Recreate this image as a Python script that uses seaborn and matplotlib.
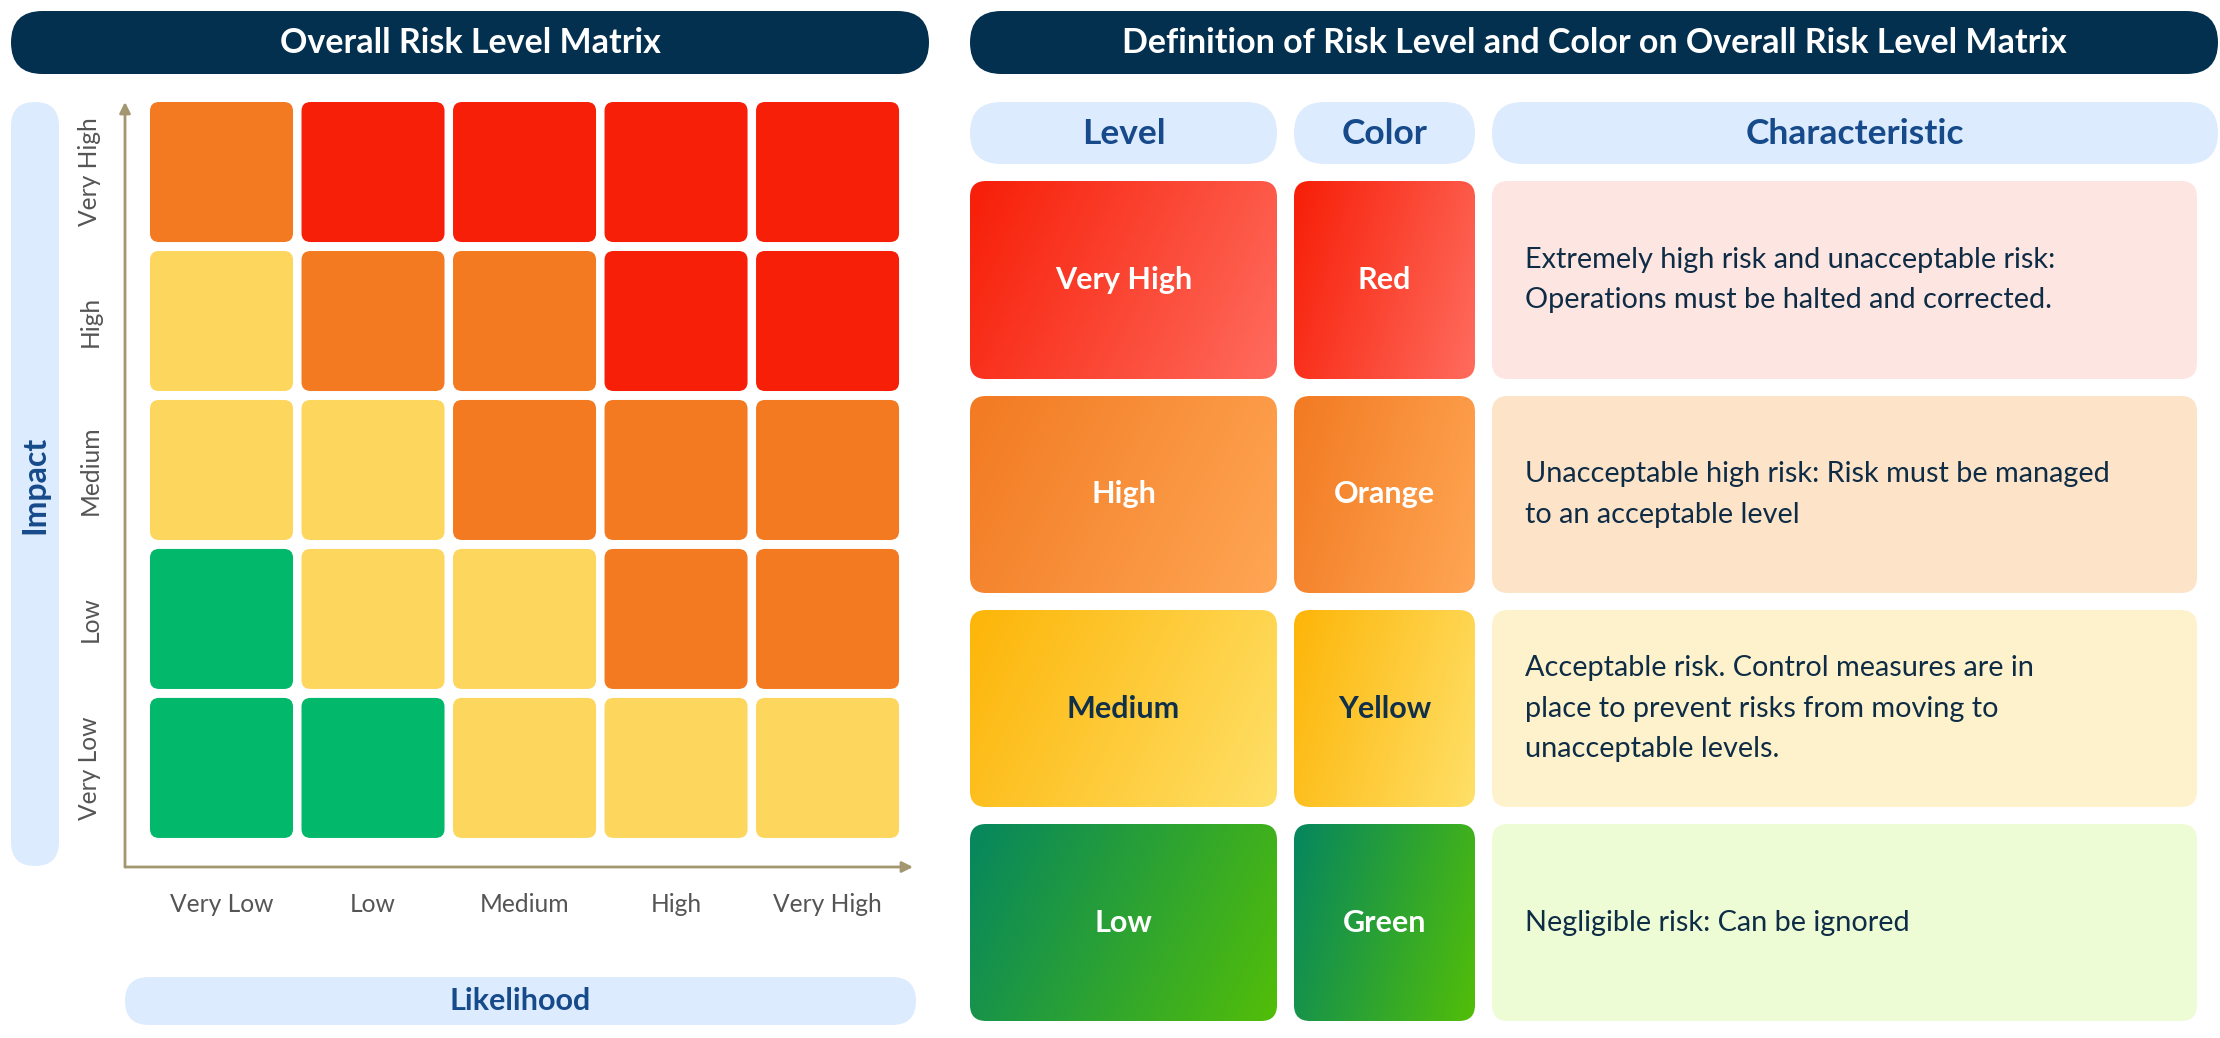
import numpy as np
import pandas as pd
import seaborn as sns
import matplotlib.pyplot as plt
from matplotlib.patches import FancyBboxPatch
from matplotlib.colors import ListedColormap, BoundaryNorm, to_rgb

# ---- data ----
likelihood = ["Very Low", "Low", "Medium", "High", "Very High"]
impact = ["Very High", "High", "Medium", "Low", "Very Low"]  # top -> bottom
# 1 = Low (green), 2 = Medium (yellow), 3 = High (orange), 4 = Very High (red)
risk_matrix = [
    [3, 4, 4, 4, 4],
    [2, 3, 3, 4, 4],
    [2, 2, 3, 3, 3],
    [1, 2, 2, 3, 3],
    [1, 1, 2, 2, 2],
]
matrix_colors = ["#02b86a", "#fdd65d", "#f47a22", "#f71f08"]

levels = ["Very High", "High", "Medium", "Low"]
color_names = ["Red", "Orange", "Yellow", "Green"]
characteristics = [
    "Extremely high risk and unacceptable risk:\nOperations must be halted and corrected.",
    "Unacceptable high risk: Risk must be managed\nto an acceptable level",
    "Acceptable risk. Control measures are in\nplace to prevent risks from moving to\nunacceptable levels.",
    "Negligible risk: Can be ignored",
]
grad_start = ["#f71e07", "#f27a22", "#fdb508", "#05865f"]
grad_end = ["#ff6c5e", "#ffa654", "#ffe068", "#52be08"]
char_bg = ["#fde6e1", "#fde3c8", "#fef2cc", "#eefcd6"]
label_color = ["white", "white", "#10304a", "white"]

NAVY = "#04304f"
PILL = "#dcebfd"
BLUE_TXT = "#164a8a"
DARK_TXT = "#0e2c45"

sns.set_theme(style="white")
plt.rcParams["font.family"] = ["Lato", "DejaVu Sans"]

W, H = 2220, 1038
fig = plt.figure(figsize=(W / 100, H / 100), dpi=100)

# overlay in pixel coordinates for the decorations
ov = fig.add_axes([0, 0, 1, 1])
ov.axis("off")


def box(x0, y0, x1, y1, color, r=None, z=1):
    if r is None:
        r = min(x1 - x0, y1 - y0) / 2
    p = FancyBboxPatch((x0, y0), x1 - x0, y1 - y0,
                       boxstyle=f"round,pad=0,rounding_size={r}",
                       facecolor=color, edgecolor="none", zorder=z)
    ov.add_patch(p)
    return p


def grad_box(x0, y0, x1, y1, c0, c1, r=16):
    p = box(x0, y0, x1, y1, "none", r=r, z=2)
    u = np.linspace(0, 1, 200)
    v = np.linspace(0, 1, 120)
    U, V = np.meshgrid(u, v)
    t = np.clip((0.8 * U + 0.25 * V) / 1.05, 0, 1)[..., None]
    img = np.array(to_rgb(c0)) * (1 - t) + np.array(to_rgb(c1)) * t
    im = ov.imshow(img, extent=(x0, x1, y1, y0), aspect="auto", zorder=2,
                   interpolation="bilinear")
    im.set_clip_path(p)


# banners
box(11, 11, 929, 74, NAVY)
ov.text(470, 43, "Overall Risk Level Matrix", color="white", fontsize=24.5,
        fontweight="bold", ha="center", va="center")
box(970, 11, 2218, 74, NAVY)
ov.text(1594, 43, "Definition of Risk Level and Color on Overall Risk Level Matrix",
        color="white", fontsize=24.5, fontweight="bold", ha="center", va="center")

# axis-title pills
box(11, 102, 59, 866, PILL)
ov.text(35, 485, "Impact", color=BLUE_TXT, fontsize=23, fontweight="bold",
        rotation=90, ha="center", va="center")
box(125, 977, 916, 1025, PILL)
ov.text(520, 1001, "Likelihood", color=BLUE_TXT, fontsize=22, fontweight="bold",
        ha="center", va="center")

# right table
cols = [(970, 1277), (1294, 1475), (1492, 2197)]
box(970, 102, 1277, 164, PILL)
box(1294, 102, 1475, 164, PILL)
box(1492, 102, 2218, 164, PILL)
for (x0, x1), t in zip([(970, 1277), (1294, 1475), (1492, 2218)],
                       ["Level", "Color", "Characteristic"]):
    ov.text((x0 + x1) / 2, 134, t, color=BLUE_TXT, fontsize=25.5,
            fontweight="bold", ha="center", va="center")

row_y = [(181, 379), (396, 593), (610, 807), (824, 1021)]
for i, (y0, y1) in enumerate(row_y):
    cy = (y0 + y1) / 2
    grad_box(cols[0][0], y0, cols[0][1], y1, grad_start[i], grad_end[i])
    grad_box(cols[1][0], y0, cols[1][1], y1, grad_start[i], grad_end[i])
    box(cols[2][0], y0, cols[2][1], y1, char_bg[i], r=16)
    ov.text(sum(cols[0]) / 2, cy, levels[i], color=label_color[i], fontsize=22,
            fontweight="bold", ha="center", va="center", zorder=3)
    ov.text(sum(cols[1]) / 2, cy, color_names[i], color=label_color[i],
            fontsize=22, fontweight="bold", ha="center", va="center", zorder=3)
    ov.text(1525, cy, characteristics[i], color=DARK_TXT, fontsize=20.8,
            ha="left", va="center", linespacing=1.7, zorder=3)

ov.set_xlim(0, W)
ov.set_ylim(H, 0)

# ---- risk matrix via seaborn heatmap ----
ax = fig.add_axes([125 / W, 1 - 867 / H, (913 - 125) / W, (867 - 102) / H])
ax.set_facecolor("none")
df = pd.DataFrame(risk_matrix, index=impact, columns=likelihood)
cmap = ListedColormap(matrix_colors)
norm = BoundaryNorm([0.5, 1.5, 2.5, 3.5, 4.5], cmap.N)
sns.heatmap(df, cmap=cmap, norm=norm, cbar=False, ax=ax)
ax.collections[0].set_visible(False)

gx, gy = 0.028, 0.030
for i in range(df.shape[0]):
    for j in range(df.shape[1]):
        ax.add_patch(FancyBboxPatch(
            (j + gx, i + gy), 1 - 2 * gx, 1 - 2 * gy,
            boxstyle="round,pad=0,rounding_size=0.06",
            facecolor=cmap(norm(df.iat[i, j])), edgecolor="none"))

ax.set_xlim(-0.137, 5.064)
ax.set_ylim(5.165, 0.03)
for s in ax.spines.values():
    s.set_visible(False)
ax.tick_params(length=0)
ax.tick_params(axis="x", pad=19)
ax.tick_params(axis="y", pad=17)
ax.set_xticklabels(likelihood, fontsize=17.7, color="#555555", rotation=0)
ax.set_yticklabels(impact, fontsize=17.7, color="#555555", rotation=90, va="center")
ax.set_xlabel("")
ax.set_ylabel("")

arrow = dict(arrowstyle="-|>", color="#a39771", lw=2, mutation_scale=16,
             shrinkA=0, shrinkB=0)
ax.annotate("", xy=(0, 1.0), xytext=(0, 0), xycoords="axes fraction",
            textcoords="axes fraction", arrowprops=arrow, annotation_clip=False)
ax.annotate("", xy=(1.0, 0), xytext=(0, 0), xycoords="axes fraction",
            textcoords="axes fraction", arrowprops=arrow, annotation_clip=False)

fig.savefig("out.png", dpi=100, facecolor="white")
